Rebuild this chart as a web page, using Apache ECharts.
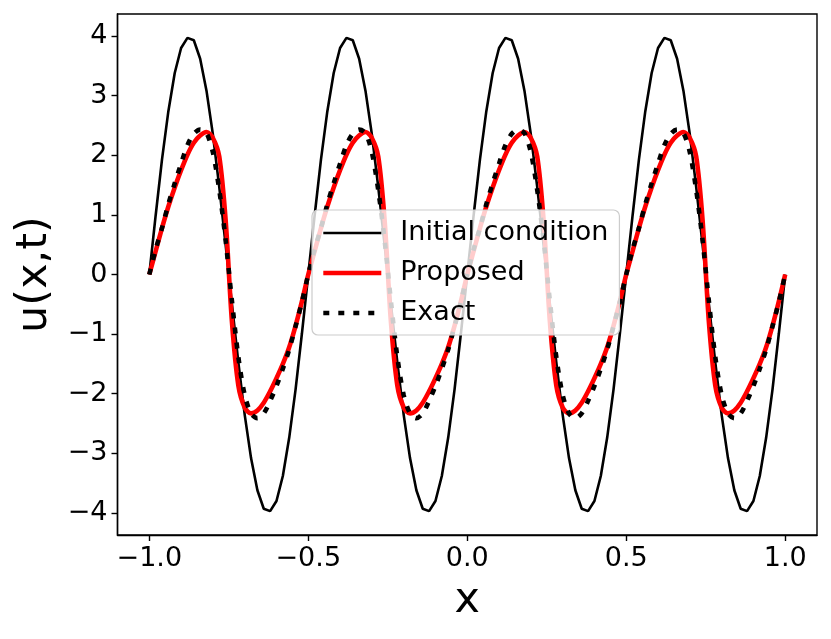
<!DOCTYPE html>
<html>
<head>
<meta charset="utf-8">
<title>u(x,t)</title>
<script src="https://cdn.jsdelivr.net/npm/echarts@6/dist/echarts.min.js"></script>
<style>
  html, body { margin: 0; padding: 0; background: #fff; }
  #chart { width: 831px; height: 639px; }
</style>
</head>
<body>
<div id="chart"></div>
<script>
// sample points along x
var xs = [
  -1, -0.98, -0.96, -0.94, -0.92, -0.9, -0.88, -0.86, -0.84, -0.82, -0.8, -0.78, -0.76,
  -0.74, -0.72, -0.7, -0.68, -0.66, -0.64, -0.62, -0.6, -0.58, -0.56, -0.54, -0.52,
  -0.5, -0.48, -0.46, -0.44, -0.42, -0.4, -0.38, -0.36, -0.34, -0.32, -0.3, -0.28, -0.26,
  -0.24, -0.22, -0.2, -0.18, -0.16, -0.14, -0.12, -0.1, -0.08, -0.06, -0.04, -0.02,
  0, 0.02, 0.04, 0.06, 0.08, 0.1, 0.12, 0.14, 0.16, 0.18, 0.2, 0.22, 0.24,
  0.26, 0.28, 0.3, 0.32, 0.34, 0.36, 0.38, 0.4, 0.42, 0.44, 0.46, 0.48,
  0.5, 0.52, 0.54, 0.56, 0.58, 0.6, 0.62, 0.64, 0.66, 0.68, 0.7, 0.72, 0.74,
  0.76, 0.78, 0.8, 0.82, 0.84, 0.86, 0.88, 0.9, 0.92, 0.94, 0.96, 0.98,
  1
]

// Initial condition
var initial = [
  0, 0.99, 1.93, 2.74, 3.38, 3.80, 3.97, 3.93, 3.62, 3.08, 2.35, 1.47, 0.50,
  -0.50, -1.47, -2.35, -3.08, -3.62, -3.93, -3.97, -3.80, -3.38, -2.74, -1.93, -0.99,
  0, 0.99, 1.93, 2.74, 3.38, 3.80, 3.97, 3.93, 3.62, 3.08, 2.35, 1.47, 0.50,
  -0.50, -1.47, -2.35, -3.08, -3.62, -3.93, -3.97, -3.80, -3.38, -2.74, -1.93, -0.99,
  0, 0.99, 1.93, 2.74, 3.38, 3.80, 3.97, 3.93, 3.62, 3.08, 2.35, 1.47, 0.50,
  -0.50, -1.47, -2.35, -3.08, -3.62, -3.93, -3.97, -3.80, -3.38, -2.74, -1.93, -0.99,
  0, 0.99, 1.93, 2.74, 3.38, 3.80, 3.97, 3.93, 3.62, 3.08, 2.35, 1.47, 0.50,
  -0.50, -1.47, -2.35, -3.08, -3.62, -3.93, -3.97, -3.80, -3.38, -2.74, -1.93, -0.99,
  0
]

// Proposed
var proposed = [
  0, 0.39, 0.78, 1.14, 1.46, 1.75, 2.01, 2.21, 2.33, 2.39, 2.29, 1.98, 0.92,
  -0.80, -1.86, -2.23, -2.33, -2.28, -2.15, -1.96, -1.74, -1.50, -1.22, -0.86, -0.45,
  0, 0.39, 0.78, 1.14, 1.46, 1.75, 2.01, 2.21, 2.33, 2.39, 2.29, 1.98, 0.92,
  -0.80, -1.86, -2.23, -2.33, -2.28, -2.15, -1.96, -1.74, -1.50, -1.22, -0.86, -0.45,
  0, 0.39, 0.78, 1.14, 1.46, 1.75, 2.01, 2.21, 2.33, 2.39, 2.29, 1.98, 0.92,
  -0.80, -1.86, -2.23, -2.33, -2.28, -2.15, -1.96, -1.74, -1.50, -1.22, -0.86, -0.45,
  0, 0.39, 0.78, 1.14, 1.46, 1.75, 2.01, 2.21, 2.33, 2.39, 2.29, 1.98, 0.92,
  -0.80, -1.86, -2.23, -2.33, -2.28, -2.15, -1.96, -1.74, -1.50, -1.22, -0.86, -0.45,
  0
]

// Exact
var exact = [
  0, 0.42, 0.78, 1.18, 1.53, 1.86, 2.17, 2.36, 2.43, 2.37, 2.05, 1.42, 0.58,
  -0.45, -1.38, -2.02, -2.33, -2.41, -2.33, -2.12, -1.87, -1.58, -1.26, -0.87, -0.46,
  0, 0.42, 0.78, 1.18, 1.53, 1.86, 2.17, 2.36, 2.43, 2.37, 2.05, 1.42, 0.58,
  -0.45, -1.38, -2.02, -2.33, -2.41, -2.33, -2.12, -1.87, -1.58, -1.26, -0.87, -0.46,
  0, 0.42, 0.78, 1.18, 1.53, 1.86, 2.17, 2.36, 2.43, 2.37, 2.05, 1.42, 0.58,
  -0.45, -1.38, -2.02, -2.33, -2.41, -2.33, -2.12, -1.87, -1.58, -1.26, -0.87, -0.46,
  0, 0.42, 0.78, 1.18, 1.53, 1.86, 2.17, 2.36, 2.43, 2.37, 2.05, 1.42, 0.58,
  -0.45, -1.38, -2.02, -2.33, -2.41, -2.33, -2.12, -1.87, -1.58, -1.26, -0.87, -0.46,
  0
]

var xTicks = [-1.0, -0.5, 0.0, 0.5, 1.0]
var yTicks = [-4, -3, -2, -1, 0, 1, 2, 3, 4]
var names = ['Initial condition', 'Proposed', 'Exact']

var font = 'DejaVu Sans'
var dotted = [6, 9]

function pairs(ys) {
  return xs.map(function (x, i) { return [x, ys[i]] })
}

function minus(s) {
  return s.replace('-', '\u2212')
}

var option = {
  animation: false,
  grid: {
    left: 117.5,
    right: 14,
    top: 14,
    bottom: 104,
    show: true,
    borderColor: '#000',
    borderWidth: 1.4
  },
  legend: {
    orient: 'vertical',
    left: 312,
    top: 210,
    z: 10,
    padding: [8, 11, 7, 9],
    itemWidth: 58,
    itemHeight: 4,
    itemGap: 10,
    backgroundColor: 'rgba(255,255,255,0.8)',
    borderColor: '#cccccc',
    borderWidth: 1.2,
    borderRadius: 6,
    itemStyle: { opacity: 0 },
    textStyle: {
      fontSize: 27,
      color: '#000',
      fontFamily: font,
      lineHeight: 30,
      padding: [0, 0, 0, 14]
    },
    data: [
      { name: names[0], lineStyle: { width: 2.6, color: '#000' } },
      { name: names[1], lineStyle: { width: 4.6, color: '#ff0000' } },
      { name: names[2], lineStyle: { width: 4.6, color: '#000', type: dotted, cap: 'butt' } }
    ]
  },
  xAxis: {
    type: 'value',
    min: -1.1,
    max: 1.1,
    name: 'x',
    nameLocation: 'middle',
    nameGap: 44,
    nameTextStyle: { fontSize: 43, color: '#000', fontFamily: font },
    axisLine: { show: true, onZero: false, lineStyle: { color: '#000', width: 1.4 } },
    axisTick: { show: true, length: 6, customValues: xTicks, lineStyle: { color: '#000', width: 1.4 } },
    axisLabel: {
      customValues: xTicks,
      fontSize: 27,
      color: '#000',
      fontFamily: font,
      margin: 10,
      formatter: function (v) { return minus(v.toFixed(1)) }
    },
    splitLine: { show: false }
  },
  yAxis: {
    type: 'value',
    min: -4.37,
    max: 4.37,
    name: 'u(x,t)',
    nameLocation: 'middle',
    nameGap: 53,
    nameRotate: 90,
    nameTextStyle: { fontSize: 43, color: '#000', fontFamily: font },
    axisLine: { show: true, onZero: false, lineStyle: { color: '#000', width: 1.4 } },
    axisTick: { show: true, length: 6, customValues: yTicks, lineStyle: { color: '#000', width: 1.4 } },
    axisLabel: {
      customValues: yTicks,
      fontSize: 27,
      color: '#000',
      fontFamily: font,
      margin: 10,
      formatter: function (v) { return minus(String(v)) }
    },
    splitLine: { show: false }
  },
  series: [
    {
      name: names[0],
      type: 'line',
      data: pairs(initial),
      symbol: 'none',
      z: 2,
      itemStyle: { color: '#000' },
      lineStyle: { color: '#000', width: 2.6 }
    },
    {
      name: names[1],
      type: 'line',
      data: pairs(proposed),
      symbol: 'none',
      smooth: 0.3,
      z: 3,
      itemStyle: { color: '#ff0000' },
      lineStyle: { color: '#ff0000', width: 4.6 }
    },
    {
      name: names[2],
      type: 'line',
      data: pairs(exact),
      symbol: 'none',
      smooth: 0.3,
      z: 4,
      itemStyle: { color: '#000' },
      lineStyle: { color: '#000', width: 4.6, type: dotted, cap: 'butt' }
    }
  ]
}

var chart = echarts.init(document.getElementById('chart'))
chart.setOption(option, true)
</script>
</body>
</html>
